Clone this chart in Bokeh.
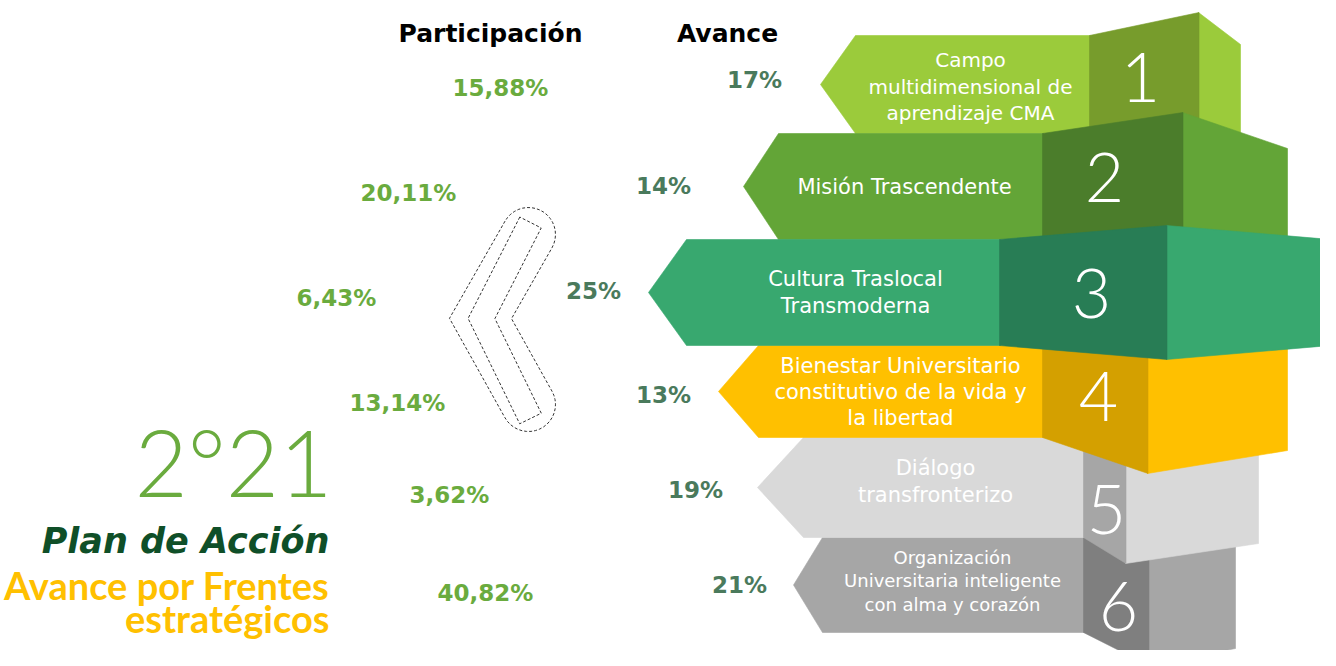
import numpy as np
from bokeh.plotting import figure
from bokeh.models import Range1d
from bokeh.embed import file_html
from bokeh.resources import INLINE
from bokeh.core.properties import value

# ---------------- DATA ----------------
frentes = [
    "Campo\nmultidimensional de\naprendizaje CMA",
    "Misión Trascendente",
    "Cultura Traslocal\nTransmoderna",
    "Bienestar Universitario\nconstitutivo de la vida y\nla libertad",
    "Diálogo\ntransfronterizo",
    "Organización\nUniversitaria inteligente\ncon alma y corazón",
]
numeros = ["1", "2", "3", "4", "5", "6"]
participacion = [15.88, 20.11, 6.43, 13.14, 3.62, 40.82]
avance = [17, 14, 25, 13, 19, 21]
encabezados = ["Participación", "Avance"]
titulo_anio = "2°21"
titulo_plan = "Plan de Acción"
titulo_sub = ["Avance por Frentes", "estratégicos"]

# ---------------- COLORS ----------------
color_main = ["#9BCB3B", "#63A537", "#38A86F", "#FFC000", "#D9D9D9", "#A6A6A6"]
color_dark = ["#779C2C", "#4B7D2B", "#287D55", "#D4A000", "#A6A6A6", "#7F7F7F"]
verde_part = "#6AAB3E"
verde_av = "#4A7A5C"

# ---------------- LAYOUT (pixel positions) ----------------
tip_x = [820, 743, 648, 718, 757, 793]
corner_x = [855, 778, 686, 758, 803, 822]
top_y = [35, 133, 239, 345, 437, 537]
bot_y = [133, 239, 345, 437, 537, 632]
face_x0 = [1089, 1042, 999, 1042, 1083, 1083]
face_x1 = [1198, 1182, 1166, 1147, 1125, 1148]
side_x1 = [1240, 1287, 1330, 1287, 1258, 1235]
face_top_r = [12, 112, 225, 345, 437, 537]
side_top_r = [44, 148, 239, 345, 437, 537]
face_bot_r = [125, 235, 359, 473, 563, 665]
side_bot_r = [140, 240, 345, 450, 543, 648]
draw_order = [0, 1, 5, 4, 3, 2]

label_x = [970, 904, 855, 900, 935, 952]
label_cy = [86, 186, 292, 391, 481, 580]
label_ls = [26.5, 0, 27, 26, 27, 23.5]
label_fs = ["20px", "21px", "21px", "21px", "21px", "18px"]

num_x = [1140, 1104, 1091, 1098, 1106, 1118]
num_y = [77, 177, 293, 396, 509, 606]

part_x = [500, 408, 336, 397, 449, 485]
part_y = [87, 192, 297, 402, 494, 592]
av_x = [754, 663, 593, 663, 695, 739]
av_y = [79, 185, 290, 394, 489, 584]

W, H = 1320, 650
p = figure(width=W, height=H, x_range=Range1d(0, W), y_range=Range1d(H, 0),
           output_backend="svg", toolbar_location=None, x_axis_type=None, y_axis_type=None,
           min_border=0, min_border_left=0, min_border_right=0, min_border_top=0,
           min_border_bottom=0)
p.outline_line_color = None
p.xgrid.visible = False
p.ygrid.visible = False
p.background_fill_color = "white"
p.border_fill_color = "white"

# ---------------- tiers ----------------
for i in draw_order:
    mid = (top_y[i] + bot_y[i]) / 2
    arrow_x = [tip_x[i], corner_x[i], face_x0[i] + 1, face_x0[i] + 1, corner_x[i]]
    arrow_y = [mid, top_y[i], top_y[i], bot_y[i], bot_y[i]]
    face_x = [face_x0[i], face_x1[i] + 0.5, face_x1[i] + 0.5, face_x0[i]]
    face_y = [top_y[i], face_top_r[i], face_bot_r[i], bot_y[i]]
    side_x = [face_x1[i], side_x1[i], side_x1[i], face_x1[i]]
    side_y = [face_top_r[i], side_top_r[i], side_bot_r[i], face_bot_r[i]]
    p.patches([arrow_x, side_x, face_x], [arrow_y, side_y, face_y],
              fill_color=[color_main[i], color_main[i], color_dark[i]],
              line_color=[color_main[i], color_main[i], color_dark[i]], line_width=0.6)

# labels
for i, lab in enumerate(frentes):
    lines = lab.split("\n")
    n = len(lines)
    ys = [label_cy[i] + (k - (n - 1) / 2) * label_ls[i] for k in range(n)]
    p.text(x=[label_x[i]] * n, y=ys, text=lines, text_color="white",
           text_font=value("DejaVu Sans"), text_font_size=label_fs[i],
           text_align="center", text_baseline="middle")

# big numbers
p.text(x=num_x, y=num_y, text=numeros, text_color="white",
       text_font=value("Lato Light"), text_font_size="68px",
       text_align="center", text_baseline="middle")

# ---------------- boomerang (dashed) ----------------
def band(P0, P1, P2, w, round_caps):
    P0, P1, P2 = map(np.array, (P0, P1, P2))
    d1 = (P1 - P0) / np.linalg.norm(P1 - P0)
    d2 = (P2 - P1) / np.linalg.norm(P2 - P1)
    n1 = np.array([-d1[1], d1[0]])
    n2 = np.array([-d2[1], d2[0]])
    m = (n1 + n2) / np.linalg.norm(n1 + n2)
    ml = w / np.dot(m, n1)
    left = [P0 + w * n1, P1 + ml * m, P2 + w * n2]
    right = [P2 - w * n2, P1 - ml * m, P0 - w * n1]
    pts = list(left)
    if round_caps:
        t = np.linspace(0, np.pi, 20)
        pts += [P2 + w * (np.cos(a) * n2 + np.sin(a) * d2) for a in t]
    pts += right
    if round_caps:
        t = np.linspace(0, np.pi, 20)
        pts += [P0 + w * (np.cos(a) * (-n1) + np.sin(a) * (-d1)) for a in t]
    pts.append(pts[0])
    pts = np.array(pts)
    return pts[:, 0], pts[:, 1]

ox, oy = band((528, 234), (480, 318), (528, 404), 27, True)
ix, iy = band((530, 222), (481, 318), (530, 418), 12, False)
p.line(ox, oy, line_color="#333333", line_width=1, line_dash="3 2")
p.line(ix, iy, line_color="#333333", line_width=1, line_dash="3 2")

# ---------------- headers & values ----------------
p.text(x=[490, 727], y=[33, 33], text=encabezados, text_color="black",
       text_font=value("DejaVu Sans"), text_font_style="bold", text_font_size="25px",
       text_align="center", text_baseline="middle")

part_txt = [f"{v:.2f}".replace(".", ",") + "%" for v in participacion]
av_txt = [f"{v}%" for v in avance]
p.text(x=part_x, y=part_y, text=part_txt, text_color=verde_part,
       text_font=value("DejaVu Sans"), text_font_style="bold", text_font_size="23px",
       text_align="center", text_baseline="middle")
p.text(x=av_x, y=av_y, text=av_txt, text_color=verde_av,
       text_font=value("DejaVu Sans"), text_font_style="bold", text_font_size="23px",
       text_align="center", text_baseline="middle")

# ---------------- titles ----------------
p.text(x=[332], y=[461], text=[titulo_anio], text_color="#6AAB3E",
       text_font=value("Lato Light"), text_font_size="92px",
       text_align="right", text_baseline="middle")
p.text(x=[329], y=[540], text=[titulo_plan], text_color="#0F4F28",
       text_font=value("DejaVu Sans"), text_font_style="bold italic", text_font_size="35px",
       text_align="right", text_baseline="middle")
p.text(x=[329, 329], y=[584, 617], text=titulo_sub, text_color="#FFC000",
       text_font=value("Lato"), text_font_style="bold", text_font_size="38px",
       text_align="right", text_baseline="middle")

open("out.html", "w").write(file_html(p, INLINE))
